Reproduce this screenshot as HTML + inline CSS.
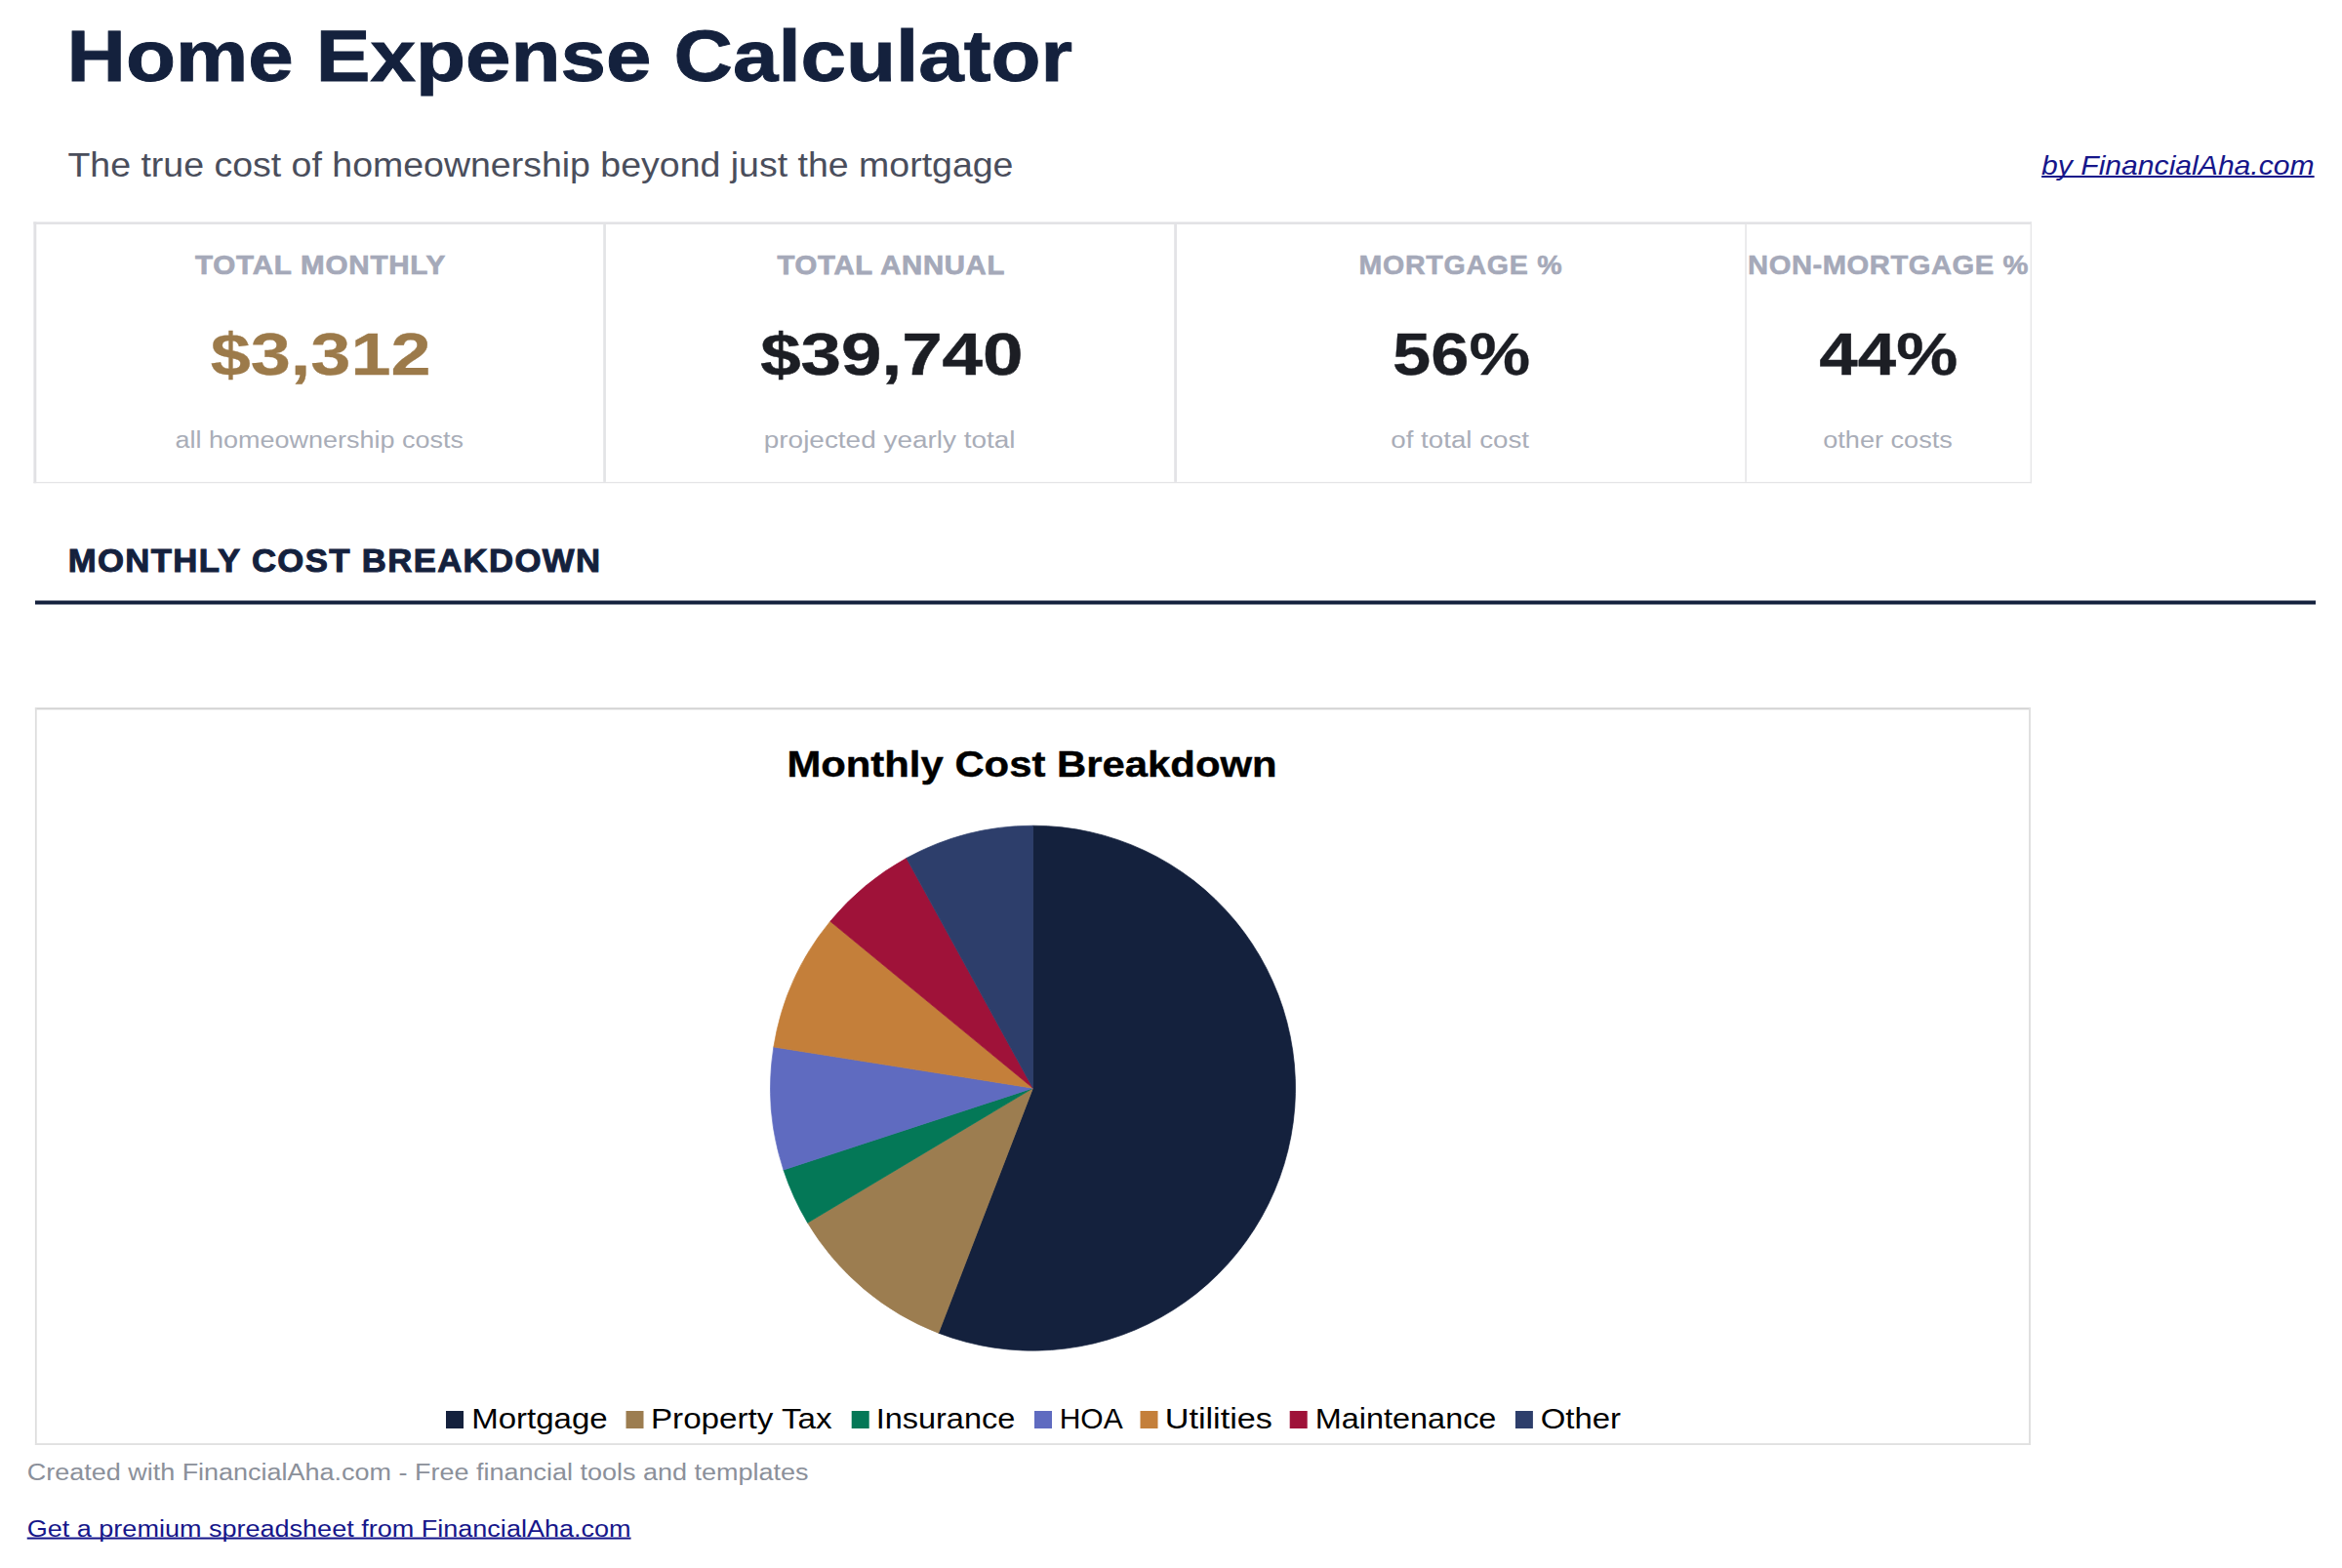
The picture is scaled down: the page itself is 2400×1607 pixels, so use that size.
<!DOCTYPE html>
<html lang="en"><head><meta charset="utf-8"><title>Home Expense Calculator</title>
<style>
html,body{margin:0;padding:0;background:#fff;}
body{width:2400px;height:1607px;position:relative;font-family:"Liberation Sans", sans-serif;}
.t{position:absolute;white-space:nowrap;line-height:1;margin:0;padding:0;font-weight:400;transform-origin:0 0;}
.t a{color:inherit;text-decoration:underline;text-decoration-skip-ink:none;text-decoration-thickness:1.8px;}
svg{position:absolute;left:0;top:0;}
</style></head><body>
<svg width="2400" height="1607" viewBox="0 0 2400 1607">
<!-- summary cards grid -->
<rect x="34.4" y="227.4" width="2047.6" height="2.5" fill="#e1e1e4"/>
<rect x="34.4" y="227.4" width="2.9" height="267.8" fill="#e1e1e4"/>
<rect x="34.4" y="493.9" width="2047.6" height="1.3" fill="#e4e4e7"/>
<rect x="2080.6" y="227.4" width="1.4" height="267.8" fill="#e6e6e8"/>
<rect x="618.2" y="229.9" width="2.7" height="264" fill="#e3e4e6"/>
<rect x="1203.2" y="229.9" width="2.8" height="264" fill="#e3e3e6"/>
<rect x="1788.1" y="229.9" width="1.9" height="264" fill="#eaeaec"/>
<!-- section rule -->
<rect x="36" y="615.5" width="2337" height="4" fill="#14213d"/>
<!-- chart frame -->
<rect x="35.9" y="725.3" width="2045.1" height="2" fill="#d2d2d2"/>
<rect x="35.9" y="725.3" width="1.8" height="755.7" fill="#dedede"/>
<rect x="35.9" y="1479.1" width="2045.1" height="1.9" fill="#e1e1e1"/>
<rect x="2079" y="725.3" width="2" height="755.7" fill="#e0e0e0"/>
<!-- pie -->
<path d="M1058.5 1115.2 L1058.50 846.20 A269 269 0 1 1 961.72 1366.19 Z" fill="#14213d" stroke="#14213d" stroke-width="0.7" stroke-linejoin="round"/>
<path d="M1058.5 1115.2 L961.72 1366.19 A269 269 0 0 1 827.61 1253.22 Z" fill="#9c7d50" stroke="#9c7d50" stroke-width="0.7" stroke-linejoin="round"/>
<path d="M1058.5 1115.2 L827.61 1253.22 A269 269 0 0 1 802.89 1199.00 Z" fill="#047857" stroke="#047857" stroke-width="0.7" stroke-linejoin="round"/>
<path d="M1058.5 1115.2 L802.89 1199.00 A269 269 0 0 1 792.83 1073.02 Z" fill="#5f6bc0" stroke="#5f6bc0" stroke-width="0.7" stroke-linejoin="round"/>
<path d="M1058.5 1115.2 L792.83 1073.02 A269 269 0 0 1 850.80 944.25 Z" fill="#c47f3a" stroke="#c47f3a" stroke-width="0.7" stroke-linejoin="round"/>
<path d="M1058.5 1115.2 L850.80 944.25 A269 269 0 0 1 928.89 879.48 Z" fill="#9f1239" stroke="#9f1239" stroke-width="0.7" stroke-linejoin="round"/>
<path d="M1058.5 1115.2 L928.89 879.48 A269 269 0 0 1 1058.50 846.20 Z" fill="#2d3e6b" stroke="#2d3e6b" stroke-width="0.7" stroke-linejoin="round"/>
<rect x="457" y="1446" width="18" height="18" fill="#14213d"/>
<rect x="641.5" y="1446" width="18" height="18" fill="#9c7d50"/>
<rect x="872.7" y="1446" width="18" height="18" fill="#047857"/>
<rect x="1060" y="1446" width="18" height="18" fill="#5f6bc0"/>
<rect x="1168.5" y="1446" width="18" height="18" fill="#c47f3a"/>
<rect x="1321.7" y="1446" width="18" height="18" fill="#9f1239"/>
<rect x="1552.9" y="1446" width="18" height="18" fill="#2d3e6b"/>
</svg>
<h1 class="t" style="left:68px;top:20px;font-size:73.44px;color:#14213d;transform:translate(0.61px,1.88px) scaleX(1.1373);font-weight:700;-webkit-text-stroke:0.9px #14213d;">Home Expense Calculator</h1>
<div class="t" style="left:69px;top:152px;font-size:34.15px;color:#4a4e5c;transform:translate(0.40px,-0.09px) scaleX(1.0981);">The true cost of homeownership beyond just the mortgage</div>
<div class="t" style="left:2092px;top:155px;font-size:27.6px;color:#16168a;transform:translate(0.11px,1.00px) scaleX(1.0913);font-style:italic;"><a href="#">by FinancialAha.com</a></div>
<div class="t" style="left:200px;top:260px;font-size:27.38px;color:#a5a9b9;transform:translate(0.00px,-1.66px) scaleX(1.0809);letter-spacing:0.7px;font-weight:700;-webkit-text-stroke:0.7px #a5a9b9;">TOTAL MONTHLY</div>
<div class="t" style="left:796px;top:260px;font-size:27.38px;color:#a5a9b9;transform:translate(0.40px,-1.54px) scaleX(1.0682);letter-spacing:0.7px;font-weight:700;-webkit-text-stroke:0.75px #a5a9b9;">TOTAL ANNUAL</div>
<div class="t" style="left:1392px;top:260px;font-size:27.38px;color:#a5a9b9;transform:translate(0.51px,-1.55px) scaleX(1.0431);letter-spacing:0.7px;font-weight:700;-webkit-text-stroke:0.55px #a5a9b9;">MORTGAGE %</div>
<div class="t" style="left:1791px;top:260px;font-size:27.38px;color:#a5a9b9;transform:translate(0.07px,-1.53px) scaleX(1.0659);letter-spacing:0.5px;font-weight:700;-webkit-text-stroke:0.55px #a5a9b9;">NON-MORTGAGE %</div>
<div class="t" style="left:215px;top:333px;font-size:61.08px;color:#9c7a4a;transform:translate(0.69px,0.35px) scaleX(1.2093);font-weight:700;-webkit-text-stroke:0.3px #9c7a4a;">$3,312</div>
<div class="t" style="left:779px;top:333px;font-size:61.08px;color:#1c1e24;transform:translate(0.18px,0.25px) scaleX(1.2198);font-weight:700;-webkit-text-stroke:0.5px #1c1e24;">$39,740</div>
<div class="t" style="left:1427px;top:333px;font-size:61.08px;color:#1c1e24;transform:translate(0.09px,0.16px) scaleX(1.1538);font-weight:700;-webkit-text-stroke:0.3px #1c1e24;">56%</div>
<div class="t" style="left:1864px;top:333px;font-size:61.08px;color:#1c1e24;transform:translate(0.34px,0.18px) scaleX(1.1600);font-weight:700;-webkit-text-stroke:0.4px #1c1e24;">44%</div>
<div class="t" style="left:179px;top:440px;font-size:24.84px;color:#a9adb8;transform:translate(0.61px,-0.55px) scaleX(1.0863);">all homeownership costs</div>
<div class="t" style="left:782px;top:440px;font-size:24.84px;color:#a9adb8;transform:translate(0.75px,-0.61px) scaleX(1.1253);">projected yearly total</div>
<div class="t" style="left:1425px;top:440px;font-size:24.84px;color:#a9adb8;transform:translate(0.28px,-0.64px) scaleX(1.1159);">of total cost</div>
<div class="t" style="left:1868px;top:440px;font-size:24.84px;color:#a9adb8;transform:translate(0.21px,-0.59px) scaleX(1.0917);">other costs</div>
<h2 class="t" style="left:69px;top:558px;font-size:33.59px;color:#14213d;transform:translate(0.63px,-0.04px) scaleX(1.0344);letter-spacing:1.3px;font-weight:700;-webkit-text-stroke:1.0px #14213d;">MONTHLY COST BREAKDOWN</h2>
<h3 class="t" style="left:806px;top:765px;font-size:36.03px;color:#000;transform:translate(0.38px,0.98px) scaleX(1.1619);font-weight:700;-webkit-text-stroke:0.4px #000;">Monthly Cost Breakdown</h3>
<div class="t" style="left:483px;top:1439px;font-size:29.6px;color:#000;transform:translate(0.27px,-0.38px) scaleX(1.1148);">Mortgage</div>
<div class="t" style="left:666px;top:1439px;font-size:29.6px;color:#000;transform:translate(0.96px,-0.19px) scaleX(1.1209);">Property Tax</div>
<div class="t" style="left:897px;top:1439px;font-size:29.6px;color:#000;transform:translate(0.71px,-0.10px) scaleX(1.0968);">Insurance</div>
<div class="t" style="left:1085px;top:1439px;font-size:29.6px;color:#000;transform:translate(0.67px,-0.30px) scaleX(1.0129);">HOA</div>
<div class="t" style="left:1193px;top:1439px;font-size:29.6px;color:#000;transform:translate(0.69px,-0.26px) scaleX(1.1554);">Utilities</div>
<div class="t" style="left:1347px;top:1439px;font-size:29.6px;color:#000;transform:translate(0.81px,-0.32px) scaleX(1.0952);">Maintenance</div>
<div class="t" style="left:1578px;top:1439px;font-size:29.6px;color:#000;transform:translate(0.69px,-0.21px) scaleX(1.1110);">Other</div>
<div class="t" style="left:27px;top:1497px;font-size:24.84px;color:#8b909a;transform:translate(0.71px,0.41px) scaleX(1.0865);">Created with FinancialAha.com - Free financial tools and templates</div>
<div class="t" style="left:27px;top:1554px;font-size:24.84px;color:#16168a;transform:translate(0.71px,0.55px) scaleX(1.0885);"><a href="#">Get a premium spreadsheet from FinancialAha.com</a></div>
</body></html>
